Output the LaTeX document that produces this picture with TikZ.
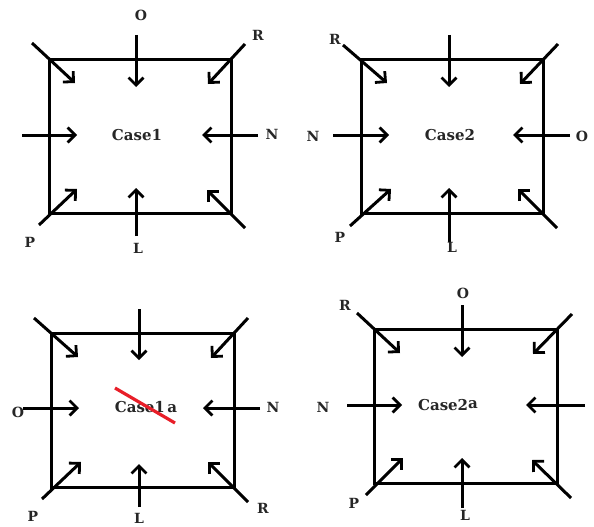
\documentclass[tikz,border=0pt]{standalone}
\usepackage{fontspec}
\setmainfont{DejaVu Serif}
\usetikzlibrary{arrows.meta}
\definecolor{strike}{RGB}{232,30,40}
\tikzset{
  boxline/.style={line width=3pt, line join=miter},
  arr/.style={line width=3pt, -{Straight Barb[length=7.5pt,width=15pt,line width=2.8pt]}},
  lbl/.style={font=\fontsize{14}{14}\selectfont\bfseries, inner sep=0pt, text=black!85},
  ctext/.style={font=\fontsize{15}{15}\selectfont\bfseries, inner sep=0pt, text=black!85}
}
\begin{document}
\begin{tikzpicture}[x=1pt,y=-1pt]
\useasboundingbox (0,0) rectangle (594,527);
% ---------- Case1 ----------
\draw[boxline] (49,60) rectangle (231,213);
\draw[arr] (32,43) -- (75,83);
\draw[arr] (136,35) -- (136,87);
\draw[arr] (245,44) -- (208,84);
\draw[arr] (22,135) -- (77,135);
\draw[arr] (258,135) -- (202,135);
\draw[arr] (39,225) -- (77,189);
\draw[arr] (136,236) -- (136,188);
\draw[arr] (245,228) -- (207,190);
\node[ctext] (c1) at (137,135) {Case1};
\node[lbl] (c1o) at (141,15) {O};
\node[lbl] (c1r) at (258,35) {R};
\node[lbl] (c1n) at (272,134) {N};
\node[lbl] (c1p) at (30,242) {P};
\node[lbl] (c1l) at (138,248) {L};
% ---------- Case2 ----------
\draw[boxline] (361,60) rectangle (543,213);
\draw[arr] (343,45) -- (387,83);
\draw[arr] (449,35) -- (449,87);
\draw[arr] (558,44) -- (520,84);
\draw[arr] (333,135) -- (389,135);
\draw[arr] (570,135) -- (513,135);
\draw[arr] (350,226) -- (391,189);
\draw[arr] (449,242) -- (449,188);
\draw[arr] (557,228) -- (518,189);
\node[ctext] (c2) at (450,135) {Case2};
\node[lbl] (c2r) at (335,39) {R};
\node[lbl] (c2n) at (313,136) {N};
\node[lbl] (c2o) at (582,136) {O};
\node[lbl] (c2p) at (340,237) {P};
\node[lbl] (c2l) at (452,247) {L};
% ---------- Case1a ----------
\draw[boxline] (51,333) rectangle (234,487);
\draw[arr] (34,318) -- (78,357);
\draw[arr] (139,309) -- (139,360);
\draw[arr] (248,318) -- (211,358);
\draw[arr] (23,408) -- (79,408);
\draw[arr] (260,408) -- (203,408);
\draw[arr] (42,499) -- (81,462);
\draw[arr] (139,507) -- (139,464);
\draw[arr] (248,502) -- (208,462);
\node[ctext] (c1a) at (146,407) {Case1\,a};
\draw[strike, line width=3.2pt] (115,388) -- (175,423);
\node[lbl] (c1ao) at (18,412) {O};
\node[lbl] (c1an) at (273,407) {N};
\node[lbl] (c1ap) at (33,516) {P};
\node[lbl] (c1al) at (139,518) {L};
\node[lbl] (c1ar) at (263,508) {R};
% ---------- Case2a ----------
\draw[boxline] (374,329) rectangle (557,483);
\draw[arr] (357,313) -- (400,353);
\draw[arr] (462,305) -- (462,357);
\draw[arr] (572,314) -- (533,354);
\draw[arr] (347,405) -- (402,405);
\draw[arr] (585,405) -- (526,405);
\draw[arr] (366,495) -- (403,458);
\draw[arr] (462,508) -- (462,458);
\draw[arr] (571,498) -- (532,460);
\node[ctext] (c2a) at (448,405) {Case2\raisebox{2pt}{a}};
\node[lbl] (c2ao) at (463,293) {O};
\node[lbl] (c2ar) at (345,305) {R};
\node[lbl] (c2an) at (323,407) {N};
\node[lbl] (c2ap) at (354,503) {P};
\node[lbl] (c2al) at (465,515) {L};
\end{tikzpicture}
\end{document}
